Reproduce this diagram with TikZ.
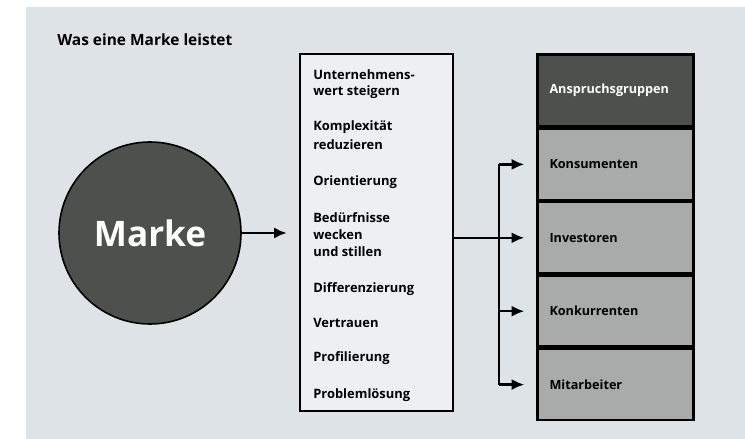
\documentclass[tikz,border=0pt]{standalone}
\usepackage{fontspec}
\setmainfont{Open Sans}
\usetikzlibrary{arrows.meta}
\definecolor{panelgrau}{RGB}{222,227,231}
\definecolor{boxgrau}{RGB}{237,240,242}
\definecolor{dunkelgrau}{RGB}{76,81,78}
\definecolor{zeilengrau}{RGB}{168,171,170}
\tikzset{
	pfeil/.style={line width=0.6mm, -{Latex[length=3.2mm,width=2.8mm]}, shorten >=0.3cm},
	linie/.style={line width=0.6mm},
	punkt/.style={anchor=west, font=\bfseries\fontsize{9.2}{11}\selectfont, inner sep=0pt},
	zeile/.style={draw, line width=0.6mm, fill=zeilengrau, minimum width=3.775cm, minimum height=1.775cm, text width=3.3cm, align=left, inner sep=0.3cm, font=\bfseries\fontsize{9}{11}\selectfont}
}

\begin{document}
\begin{tikzpicture}
			%%%%% START %%%%%
			
			\useasboundingbox (0, 0) rectangle (18.625, 10.975);
			\fill[white] (0, 0) rectangle (18.625, 10.975);
			\fill[panelgrau] (0.65, 0) rectangle (18.625, 10.8);
			
			\node[anchor=west, inner sep=0pt, font=\bfseries\fontsize{11}{13}\selectfont] (titel) at (1.425, 9.975) {Was eine Marke leistet};
			
			\node[circle, draw, line width=0.4mm, fill=dunkelgrau, minimum size=4.55cm, text=white, font=\bfseries\fontsize{25}{30}\selectfont] (marke) at (3.75, 5.15) {Marke};
			
			\node[draw, line width=0.6mm, fill=boxgrau, minimum width=3.825cm, minimum height=8.925cm, inner sep=0pt] (leistungen) at (9.4125, 5.1625) {};
			\node[punkt] (p1) at (7.825, 9.1) {Unternehmens-};
			\node[punkt] (p2) at (7.825, 8.675) {wert steigern};
			\node[punkt] (p3) at (7.825, 7.8) {Komplexität};
			\node[punkt] (p4) at (7.825, 7.35) {reduzieren};
			\node[punkt] (p5) at (7.825, 6.425) {Orientierung};
			\node[punkt] (p6) at (7.825, 5.525) {Bedürfnisse};
			\node[punkt] (p7) at (7.825, 5.1) {wecken};
			\node[punkt] (p8) at (7.825, 4.675) {und stillen};
			\node[punkt] (p9) at (7.825, 3.75) {Differenzierung};
			\node[punkt] (p10) at (7.825, 2.9) {Vertrauen};
			\node[punkt] (p11) at (7.825, 2.025) {Profilierung};
			\node[punkt] (p12) at (7.825, 1.1) {Problemlösung};
			
			\node[zeile, fill=dunkelgrau, text=white, minimum height=1.8cm] (anspruch) at (15.3875, 8.7125) {Anspruchsgruppen};
			\node[zeile, anchor=north] (konsumenten) at (anspruch.south) {Konsumenten};
			\node[zeile, anchor=north] (investoren) at (konsumenten.south) {Investoren};
			\node[zeile, anchor=north] (konkurrenten) at (investoren.south) {Konkurrenten};
			\node[zeile, anchor=north] (mitarbeiter) at (konkurrenten.south) {Mitarbeiter};
			
			\coordinate (verteiler) at (12.475, 5.15);
			
			\draw[pfeil] (marke.east) -- (leistungen.west |- marke.east);
			\draw[pfeil] (leistungen.east |- investoren.west) -- (investoren.west);
			\draw[linie] (verteiler |- konsumenten.west) -- (verteiler |- mitarbeiter.west);
			\draw[pfeil] (verteiler |- konsumenten.west) -- (konsumenten.west);
			\draw[pfeil] (verteiler |- konkurrenten.west) -- (konkurrenten.west);
			\draw[pfeil] (verteiler |- mitarbeiter.west) -- (mitarbeiter.west);
			
			%%%%% END %%%%%
		\end{tikzpicture}
\end{document}
